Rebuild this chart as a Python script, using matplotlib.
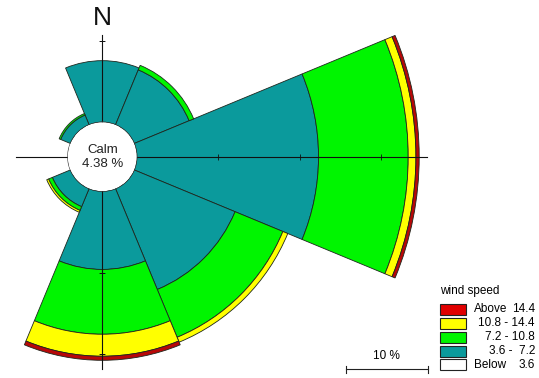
import numpy as np
import matplotlib
matplotlib.use("Agg")
import matplotlib.pyplot as plt
from matplotlib.patches import Rectangle
from matplotlib.lines import Line2D

plt.rcParams['font.family'] = ['Liberation Sans', 'DejaVu Sans']

# wind rose data: percent of time per direction and speed class
directions = ['N', 'NE', 'E', 'SE', 'S', 'SW', 'W', 'NW']
below_3_6 = [0.0, 0.0, 0.0, 0.0, 0.0, 0.0, 0.0, 0.0]
speed_3_6_7_2 = [7.55, 7.3, 22.3, 13.4, 9.6, 2.4, 0.0, 1.3]
speed_7_2_10_8 = [0.0, 0.6, 11.0, 6.35, 7.95, 0.5, 0.0, 0.2]
speed_10_8_14_4 = [0.0, 0.0, 0.95, 0.65, 2.7, 0.25, 0.0, 0.0]
above_14_4 = [0.0, 0.0, 0.4, 0.0, 0.5, 0.0, 0.0, 0.0]
calm_pct = 4.38

class_labels = ['Below   3.6', '3.6 -  7.2', '7.2 - 10.8', '10.8 - 14.4', 'Above 14.4']
class_colors = ['#ffffff', '#0b9a9c', '#00f500', '#ffff00', '#e00000']
rose_colors = ['#ffffff', '#0b9a9c', '#00f500', '#ffff00', '#b80808']

W, H = 539, 378
DPI = 100
px_per_pct = 8.15        # radial scale
calm_px = 34.5           # radius of the calm circle
rmax = 37.0
cx, cy = 102.3, 221.3    # rose centre, pixels from bottom-left

fig = plt.figure(figsize=(W / DPI, H / DPI), dpi=DPI)
R = calm_px + rmax * px_per_pct
ax = fig.add_axes([(cx - R) / W, (cy - R) / H, 2 * R / W, 2 * R / H], projection='polar')
ax.set_theta_zero_location('N')
ax.set_theta_direction(-1)
ax.set_rorigin(-calm_px / px_per_pct)
ax.set_ylim(0, rmax)
ax.axis('off')

theta = np.deg2rad(np.arange(len(directions)) * 45.0)
width = np.deg2rad(45.0)

classes = [below_3_6, speed_3_6_7_2, speed_7_2_10_8, speed_10_8_14_4, above_14_4]
bottom = np.zeros(len(directions))
for vals, col in zip(classes, rose_colors):
    vals = np.asarray(vals)
    m = vals > 0
    ax.bar(theta[m], vals[m], width=width, bottom=bottom[m], color=col,
           edgecolor='#1d261d', linewidth=0.6, align='center', zorder=2)
    bottom += vals

# axis cross with percent ticks
cross_len = {0: 10.7, 90: 35.6, 180: 21.8, 270: 6.4}
for ang, ln in cross_len.items():
    t = np.deg2rad(ang)
    ax.plot([t, t], [0, ln], color='#111111', lw=0.8, zorder=4)
    ticks = [r for r in (10, 20, 30) if r < ln]
    mk = '|' if ang in (90, 270) else '_'
    ax.plot([t] * len(ticks), ticks, ls='none', marker=mk, ms=5, mew=0.6,
            color='#111111', zorder=4)

# calm circle outline
tt = np.linspace(0, 2 * np.pi, 300)
ax.plot(tt, np.zeros_like(tt), color='#333333', lw=0.8, zorder=5)
ax.text(0.5, 0.5, 'Calm\n%.2f %%' % calm_pct, transform=ax.transAxes,
        ha='center', va='center', fontsize=9.5, color='#222222', zorder=6)
ax.text(0, 12.8, 'N', ha='center', va='center', fontsize=19, color='#111111')

# legend
def fx(x):
    return x / W

def fy(y):
    return 1 - y / H

fig.text(fx(440), fy(291), 'wind speed', ha='left', va='center', fontsize=8.5)
row_top = [304, 318, 332, 345.5, 359]
for top, lab, col in zip(row_top, class_labels[::-1], class_colors[::-1]):
    fig.patches.append(Rectangle((fx(440), fy(top + 11)), fx(26), 11 / H,
                                 transform=fig.transFigure, facecolor=col,
                                 edgecolor='#222222', lw=0.8))
    yc = fy(top + 5.5)
    if lab.startswith(('Above', 'Below')):
        word, num = lab.split()
        fig.text(fx(474), yc, word, ha='left', va='center', fontsize=8.5)
        fig.text(fx(535), yc, num, ha='right', va='center', fontsize=8.5)
    else:
        fig.text(fx(535), yc, lab, ha='right', va='center', fontsize=8.5)

# scale bar for 10 %
x0, x1 = 346, 346 + 10 * px_per_pct
fig.lines.append(Line2D([fx(x0), fx(x1)], [fy(369), fy(369)], transform=fig.transFigure,
                        color='#222222', lw=0.8))
for xe in (x0, x1):
    fig.lines.append(Line2D([fx(xe), fx(xe)], [fy(365.5), fy(372.5)],
                            transform=fig.transFigure, color='#222222', lw=0.8))
fig.text(fx((x0 + x1) / 2), fy(362), '10 %', ha='center', va='bottom', fontsize=8.5)

fig.savefig('out.png', dpi=DPI)
